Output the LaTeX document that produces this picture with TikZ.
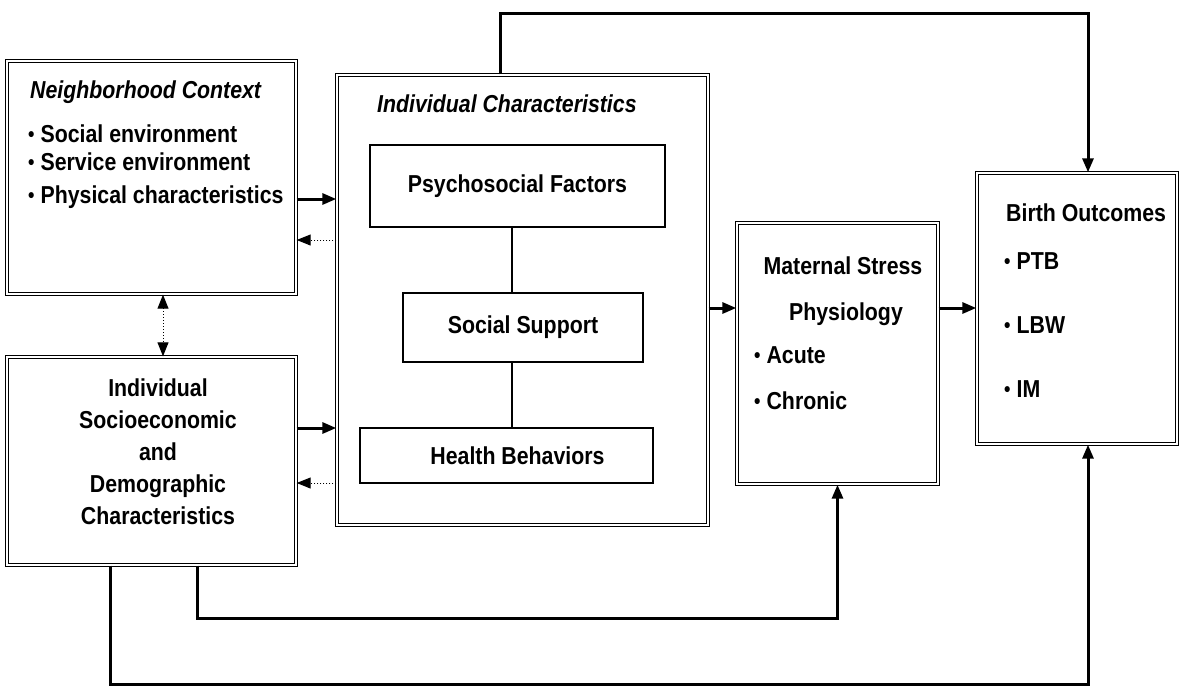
\documentclass[tikz,border=0pt]{standalone}
\usepackage{fontspec}
\setmainfont{Liberation Sans}[FakeStretch=0.87]
\usepackage{tikz}
\usetikzlibrary{positioning}
\usetikzlibrary{arrows.meta}

\newcommand{\figfont}{\fontsize{24.5}{30}\selectfont\bfseries}
\newcommand{\itemdot}{{\fontsize{21}{21}\selectfont\raisebox{1pt}{•}}\hspace{6pt}}

\tikzset{
    >={Triangle[length=14pt,width=11pt]},
    outerbox/.style={draw, double, line width=1.4pt, double distance=1.8pt, inner sep=0pt},
    innerbox/.style={draw, line width=1.2pt, inner sep=0pt},
    txt/.style={inner sep=0pt, font=\figfont},
    solidarrow/.style={->, line width=3pt},
    dottedarrow/.style={->, line width=1pt, dotted},
}

\begin{document}
\begin{tikzpicture}[x=1pt, y=-1pt, every node/.style={font=\figfont}]
    \useasboundingbox (0,0) rectangle (1181,686);

    % outer boxes
    \node[outerbox, minimum width=289pt, minimum height=233pt] (nbhd) at (151.5,177.5) {};
    \node[outerbox, minimum width=289pt, minimum height=208pt] (ses) at (151.5,461) {};
    \node[outerbox, minimum width=371pt, minimum height=450pt] (indiv) at (522.5,300) {};
    \node[outerbox, minimum width=201pt, minimum height=261pt] (stress) at (837.5,353.5) {};
    \node[outerbox, minimum width=200pt, minimum height=271pt] (birth) at (1077,308.5) {};

    % boxes inside individual characteristics
    \node[innerbox, minimum width=295pt, minimum height=82pt] (psych) at (517.5,186) {Psychosocial Factors};
    \node[innerbox, minimum width=240pt, minimum height=69pt] (supp) at (523,327.5) {Social Support};
    \node[innerbox, minimum width=293pt, minimum height=55pt] (health) at (506.5,455.5) {\hspace*{22pt}Health Behaviors};

    % texts
    \node[txt, anchor=base west, font=\figfont\itshape] (nbhd-title) at (30,98) {Neighborhood Context};
    \foreach \txt/\yy [count=\i] in {Social environment/142, Service environment/170, Physical characteristics/203}
        \node[txt, anchor=base west] (nbhd-item\i) at (28,\yy) {\itemdot\txt};

    \node[txt, anchor=base west, font=\figfont\itshape] (indiv-title) at (377,112) {Individual Characteristics};

    \foreach \txt [count=\i] in {Individual, Socioeconomic, and, Demographic, Characteristics}
        \node[txt, anchor=base] (ses-line\i) at (158, 364+32*\i) {\txt};

    \node[txt, anchor=base] (stress-title1) at (843,274) {Maternal Stress};
    \node[txt, anchor=base] (stress-title2) at (846,320) {Physiology};
    \node[txt, anchor=base west] (stress-item1) at (754,363) {\itemdot Acute};
    \node[txt, anchor=base west] (stress-item2) at (754,409) {\itemdot Chronic};

    \node[txt, anchor=base west] (birth-title) at (1006,221) {Birth Outcomes};
    \foreach \txt/\yy [count=\i] in {PTB/269, LBW/333, IM/397}
        \node[txt, anchor=base west] (birth-item\i) at (1004,\yy) {\itemdot\txt};

    % rails for the connectors
    \coordinate (nc-fwd) at (0,199);
    \coordinate (nc-back) at (0,240);
    \coordinate (ses-fwd) at (0,428);
    \coordinate (ses-back) at (0,483);
    \coordinate (main) at (0,308);
    \coordinate (link) at (163,0);
    \coordinate (spine) at (512,0);
    \coordinate (top-rail) at (500,13);
    \coordinate (bo-drop) at (1088,0);
    \coordinate (low-rail) at (197,618);
    \coordinate (base-rail) at (110,684);

    \draw[line width=1.2pt] (psych.south -| spine) -- (supp.north -| spine);
    \draw[line width=1.2pt] (supp.south -| spine) -- (health.north -| spine);

    \draw[solidarrow] (nbhd.east |- nc-fwd) -- (indiv.west |- nc-fwd);
    \draw[dottedarrow] (indiv.west |- nc-back) -- (nbhd.east |- nc-back);
    \draw[solidarrow] (ses.east |- ses-fwd) -- (indiv.west |- ses-fwd);
    \draw[dottedarrow] (indiv.west |- ses-back) -- (ses.east |- ses-back);
    \draw[dottedarrow, <->] (nbhd.south -| link) -- (ses.north -| link);

    \draw[solidarrow] (indiv.east |- main) -- (stress.west |- main);
    \draw[solidarrow] (stress.east |- main) -- (birth.west |- main);

    \draw[solidarrow] (indiv.north -| top-rail) -- (top-rail) -| (birth.north -| bo-drop);
    \draw[solidarrow] (ses.south -| low-rail) -- (low-rail) -| (stress.south);
    \draw[solidarrow] (ses.south -| base-rail) -- (base-rail) -| (birth.south -| bo-drop);
\end{tikzpicture}
\end{document}
